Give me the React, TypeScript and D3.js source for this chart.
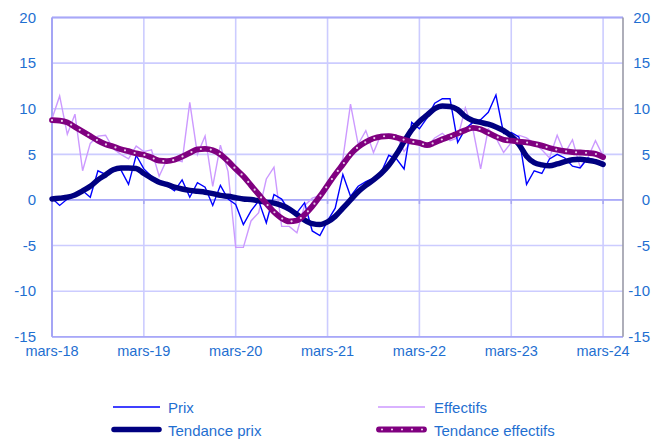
import React from "react";
import * as d3 from "d3";

const xTickLabels = ["mars-18", "mars-19", "mars-20", "mars-21", "mars-22", "mars-23", "mars-24"];
const yTicks = [-15, -10, -5, 0, 5, 10, 15, 20];

// monthly values, mars-18 .. mars-24 (73 points)
const prix = [
  0.2, -0.6, 0.1, 0.5, 1.0, 0.3, 3.2, 2.8, 3.4, 3.3, 1.7, 4.9,
  3.4, 2.6, 2.1, 1.6, 1.0, 2.2, 0.3, 1.9, 1.4, -0.6, 1.6, 0.1,
  -0.5, -2.7, -1.2, -0.1, -2.5, 0.6, 0.1, -1.2, -1.4, -0.3, -3.4, -3.9,
  -2.3, -0.9, 2.8, 0.4, 1.5, 2.0, 2.4, 3.0, 4.9, 4.5, 3.4, 8.5,
  7.8, 9.0, 10.6, 11.1, 11.1, 6.3, 7.8, 8.5, 8.8, 9.6, 11.5, 7.3,
  7.4, 6.9, 1.7, 3.2, 2.9, 4.5, 5.0, 4.6, 3.7, 3.5, 4.6, 4.4,
  4.1,
];

const tendancePrix = [
  0.1, 0.2, 0.3, 0.55, 1.0, 1.5, 2.2, 2.75, 3.3, 3.5, 3.5, 3.45,
  2.9, 2.4, 1.95, 1.7, 1.4, 1.2, 1.05, 0.95, 0.85, 0.7, 0.5, 0.4,
  0.25, 0.1, 0.05, -0.1, -0.25, -0.35, -0.6, -1.0, -1.6, -2.2, -2.6, -2.7,
  -2.4, -1.8, -0.9, 0.0, 0.9, 1.6, 2.2, 2.9, 3.8, 5.0, 6.4, 7.7,
  8.6, 9.3, 10.0, 10.3, 10.25, 9.9, 9.15, 8.7, 8.5, 8.3, 8.0, 7.6,
  7.0, 6.1, 4.8, 4.1, 3.85, 3.75, 3.95, 4.2, 4.4, 4.45, 4.35, 4.2,
  3.9,
];

const effectifs = [
  8.9, 11.4, 7.2, 9.4, 3.2, 6.2, 7.0, 7.1, 5.6, 5.0, 4.5, 5.9,
  5.3, 5.5, 2.6, 4.4, 4.4, 4.2, 10.7, 5.0, 7.0, 1.5, 6.0, 3.1,
  -5.2, -5.2, -2.3, -1.4, 2.3, 3.6, -2.9, -2.9, -3.6, -0.6, 0.2, 0.5,
  1.2, 2.8, 4.5, 10.5, 6.1, 7.6, 5.2, 7.2, 7.2, 7.1, 5.3, 6.5,
  6.0, 5.8, 6.8, 7.3, 6.5, 6.8, 10.1, 7.75, 3.4, 7.8, 6.8, 5.2,
  6.3, 7.1, 6.8, 6.2, 5.5, 4.6, 7.1, 5.1, 6.6, 3.6, 4.6, 6.5,
  4.8,
];

const tendanceEffectifs = [
  8.75, 8.7, 8.5, 8.0, 7.5, 7.0, 6.5, 6.1, 5.85, 5.55, 5.35, 5.1,
  4.95, 4.65, 4.3, 4.25, 4.4, 4.75, 5.15, 5.55, 5.6, 5.45, 5.0, 4.25,
  3.4, 2.6, 1.6, 0.6, -0.4, -1.3, -2.0, -2.35, -2.25, -1.6, -0.7, 0.4,
  1.6, 2.8, 3.9, 5.0, 5.8, 6.35, 6.75, 6.95, 7.0, 6.85, 6.6, 6.4,
  6.25, 6.0, 6.3, 6.65, 6.95, 7.3, 7.65, 7.9, 7.75, 7.35, 6.95, 6.6,
  6.5, 6.4, 6.3, 6.15, 5.95, 5.7, 5.5, 5.35, 5.25, 5.2, 5.15, 5.05,
  4.7,
];

const W = 662;
const H = 439;
const L = 52, R = 623, T = 17.5, B = 336.8;
const FONT = "'Liberation Sans', Arial, sans-serif";
const TXT = "#1f6fd1";

export default function App() {
  const x = d3.scaleLinear().domain([0, 74.6]).range([L, R]);
  const y = d3.scaleLinear().domain([-15, 20]).range([B, T]);
  const idx = prix.map((_, i) => i);

  const thin = d3
    .line<number>()
    .x((_, i) => x(i))
    .y((d) => y(d))
    .curve(d3.curveLinear);
  const smooth = d3
    .line<number>()
    .x((_, i) => x(i))
    .y((d) => y(d))
    .curve(d3.curveMonotoneX);

  const yearIdx = xTickLabels.map((_, k) => k * 12);

  return (
    <svg
      width={W}
      height={H}
      style={{ position: "absolute", left: 0, top: 0, background: "#fff" }}
      fontFamily={FONT}
    >
      {/* horizontal grid */}
      {yTicks.map((t) => (
        <line key={"h" + t} x1={L} x2={R} y1={y(t)} y2={y(t)} stroke="#ccccff" strokeWidth={1.6} />
      ))}
      {/* vertical grid */}
      {yearIdx.map((m) => (
        <line key={"v" + m} x1={x(m)} x2={x(m)} y1={T} y2={B} stroke="#ccccff" strokeWidth={1.6} />
      ))}
      {/* zero axis with ticks */}
      <line x1={L} x2={R} y1={y(0)} y2={y(0)} stroke="#aaaaf8" strokeWidth={1.8} />
      {yearIdx.map((m) => (
        <line key={"t" + m} x1={x(m)} x2={x(m)} y1={y(0)} y2={y(0) + 4} stroke="#aaaaf0" strokeWidth={1.6} />
      ))}
      {/* frame */}
      <line x1={L} x2={R} y1={T} y2={T} stroke="#a8a8f8" strokeWidth={1.8} />
      <line x1={L} x2={R} y1={B} y2={B} stroke="#a8a8f8" strokeWidth={1.8} />
      <line x1={L} x2={L} y1={T} y2={B} stroke="#a0a0f4" strokeWidth={1.8} />
      <line x1={R} x2={R} y1={T} y2={B} stroke="#9a9aa8" strokeWidth={1.6} />

      {/* series */}
      <path d={thin(effectifs) || ""} fill="none" stroke="#cc99ff" strokeWidth={1.4} strokeLinejoin="miter" />
      <path d={thin(prix) || ""} fill="none" stroke="#0000ff" strokeWidth={1.4} strokeLinejoin="miter" />
      <path d={smooth(tendancePrix) || ""} fill="none" stroke="#000080" strokeWidth={5.5} strokeLinecap="round" strokeLinejoin="round" />
      <path d={smooth(tendanceEffectifs) || ""} fill="none" stroke="#800080" strokeWidth={5.8} strokeLinecap="round" strokeLinejoin="round" />
      <path d={smooth(tendanceEffectifs) || ""} fill="none" stroke="#e8cce8" strokeWidth={2.2} strokeLinecap="round" strokeDasharray="0 10" />

      {/* left y labels */}
      {yTicks.map((t) => (
        <text key={"yl" + t} x={36} y={y(t)} dy="0.35em" textAnchor="end" fontSize={15} fill={TXT}>
          {t}
        </text>
      ))}
      {/* right y labels */}
      {yTicks.map((t) => (
        <text key={"yr" + t} x={650} y={y(t)} dy="0.35em" textAnchor="end" fontSize={15} fill={TXT}>
          {t}
        </text>
      ))}
      {/* x labels */}
      {xTickLabels.map((lab, k) => (
        <text key={lab} x={x(yearIdx[k])} y={356} textAnchor="middle" fontSize={14.5} fill={TXT}>
          {lab}
        </text>
      ))}

      {/* legend */}
      <g>
        <line x1={113} x2={160} y1={407} y2={407} stroke="#0000ff" strokeWidth={1.6} />
        <text x={168} y={413} fontSize={15} fill={TXT}>Prix</text>
        <line x1={114} x2={159} y1={429.5} y2={429.5} stroke="#000080" strokeWidth={5.5} strokeLinecap="round" />
        <text x={168} y={436} fontSize={15} fill={TXT}>Tendance prix</text>

        <line x1={378} x2={425} y1={407} y2={407} stroke="#cc99ff" strokeWidth={1.6} />
        <text x={434} y={413} fontSize={15} fill={TXT}>Effectifs</text>
        <line x1={379} x2={424} y1={429.5} y2={429.5} stroke="#800080" strokeWidth={5.8} strokeLinecap="round" />
        <line x1={382} x2={424} y1={429.5} y2={429.5} stroke="#e8cce8" strokeWidth={2.2} strokeLinecap="round" strokeDasharray="0 10" />
        <text x={434} y={436} fontSize={15} fill={TXT}>Tendance effectifs</text>
      </g>
    </svg>
  );
}
